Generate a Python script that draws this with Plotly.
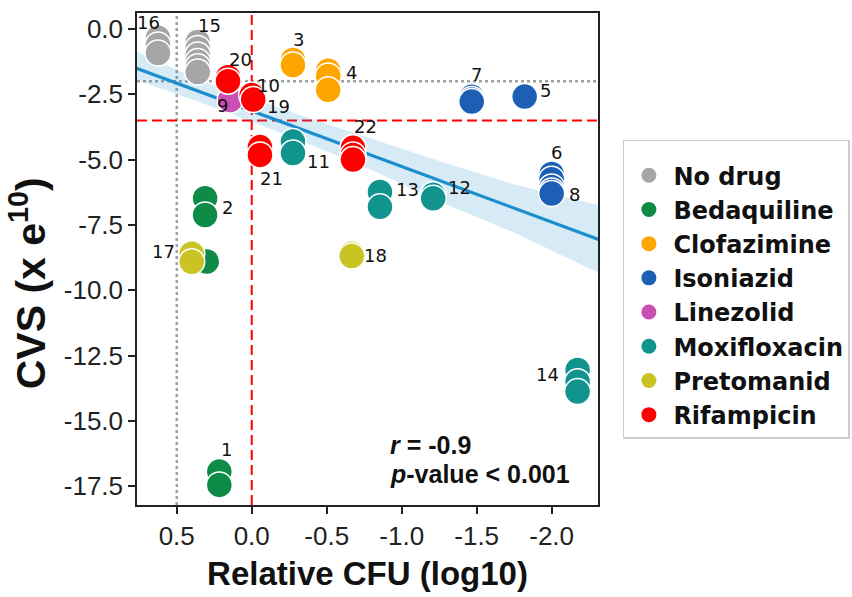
import plotly.graph_objects as go

# ---------------- data ----------------
drug_order = ["No drug", "Bedaquiline", "Clofazimine", "Isoniazid",
              "Linezolid", "Moxifloxacin", "Pretomanid", "Rifampicin"]
drug_colors = ["#A6A6A6", "#0E8C47", "#FFA500", "#1D5FB5",
               "#C94FB3", "#12948E", "#C9C424", "#FF0000"]

point_id = ["16", "16", "16",
            "15", "15", "15", "15", "15", "15",
            "1", "1", "2", "2", "2",
            "3", "3", "4", "4", "4",
            "5", "7", "7", "7", "6", "6", "8", "8", "8",
            "9",
            "11", "11", "12", "12", "13", "13", "14", "14", "14",
            "17", "17", "18", "18",
            "20", "20", "10", "19", "21", "21", "22", "22", "22"]
point_drug = ["No drug"] * 9 + ["Bedaquiline"] * 5 + ["Clofazimine"] * 5 + \
             ["Isoniazid"] * 9 + ["Linezolid"] + ["Moxifloxacin"] * 9 + \
             ["Pretomanid"] * 4 + ["Rifampicin"] * 9
point_cfu = [0.625, 0.625, 0.625,
             0.36, 0.36, 0.36, 0.36, 0.36, 0.36,
             0.216, 0.216, 0.311, 0.311, 0.30,
             -0.275, -0.275, -0.51, -0.51, -0.51,
             -1.82, -1.467, -1.467, -1.467, -2.0, -2.0, -2.0, -2.0, -2.0,
             0.144,
             -0.275, -0.275, -1.21, -1.21, -0.855, -0.855, -2.173, -2.173, -2.173,
             0.40, 0.40, -0.667, -0.667,
             0.158, 0.158, 0.0, -0.01, -0.055, -0.055, -0.675, -0.675, -0.675]
point_cvs = [-0.34, -0.61, -0.92,
             -0.5, -0.75, -1.0, -1.25, -1.45, -1.65,
             -16.94, -17.45, -6.48, -7.12, -8.9,
             -1.19, -1.38, -1.6, -1.8, -2.33,
             -2.59, -2.6, -2.7, -2.78, -5.55, -5.75, -6.05, -6.2, -6.3,
             -2.72,
             -4.31, -4.75, -6.35, -6.48, -6.24, -6.81, -13.05, -13.5, -13.88,
             -8.6, -8.91, -8.6, -8.69,
             -1.85, -2.0, -2.53, -2.7, -4.52, -4.82, -4.55, -4.82, -5.0]

# regression line and its confidence band
fit_x = [0.771, -2.32]
fit_y = [-1.50, -8.07]
band_x = [0.77, 0.35, 0.0, -0.4, -0.8, -1.25, -1.75, -2.32]
band_hi = [-0.85, -1.95, -2.65, -3.45, -4.20, -5.05, -5.95, -6.75]
band_lo = [-1.95, -2.80, -3.55, -4.45, -5.40, -6.60, -7.80, -9.35]

# threshold lines
gray_x, gray_y = 0.5, -2.0
red_x, red_y = 0.0, -3.5

x_tickvals = [0.5, 0.0, -0.5, -1.0, -1.5, -2.0]
x_ticktext = ["0.5", "0.0", "-0.5", "-1.0", "-1.5", "-2.0"]
y_tickvals = [0.0, -2.5, -5.0, -7.5, -10.0, -12.5, -15.0, -17.5]
y_ticktext = ["0.0", "-2.5", "-5.0", "-7.5", "-10.0", "-12.5", "-15.0", "-17.5"]

# ---------------- styling ----------------
label_offsets = {  # pixel offsets of each number label from the group's top point
    "16": (-10, -15), "15": (12, -17), "3": (6, -21), "20": (12, -18),
    "10": (17, -10), "9": (-8, 5), "19": (25, 7), "4": (23, 2),
    "7": (5, -22), "5": (21, -6), "22": (13, -21), "21": (12, 31),
    "11": (26, 20), "13": (28, -2), "12": (26, -7), "6": (5, -21),
    "8": (23, 7), "2": (22, 9), "17": (-28, -2), "18": (24, 2),
    "1": (7, -22), "14": (-30, 5),
}
color_of = dict(zip(drug_order, drug_colors))

fig = go.Figure()

# confidence band
fig.add_trace(go.Scatter(x=band_x, y=band_hi, mode="lines", line=dict(width=0),
                         showlegend=False, hoverinfo="skip"))
fig.add_trace(go.Scatter(x=band_x, y=band_lo, mode="lines", line=dict(width=0),
                         fill="tonexty", fillcolor="rgba(31,143,206,0.18)",
                         showlegend=False, hoverinfo="skip"))
# regression line
fig.add_trace(go.Scatter(x=fit_x, y=fit_y, mode="lines",
                         line=dict(color="#1C8DCD", width=3.2),
                         showlegend=False, hoverinfo="skip"))

# points per drug
for d in drug_order:
    xs = [x for x, dd in zip(point_cfu, point_drug) if dd == d]
    ys = [y for y, dd in zip(point_cvs, point_drug) if dd == d]
    fig.add_trace(go.Scatter(x=xs, y=ys, mode="markers", name=d, showlegend=False,
                             marker=dict(size=26, color=color_of[d],
                                         line=dict(color="white", width=1.5))))

# legend entries (small markers as in the reference)
for d in drug_order:
    fig.add_trace(go.Scatter(x=[None], y=[None], mode="markers", name="<b>%s</b>" % d,
                             marker=dict(size=15, color=color_of[d])))

# number labels
seen = []
for pid in point_id:
    if pid in seen:
        continue
    seen.append(pid)
    xs = [x for x, p in zip(point_cfu, point_id) if p == pid]
    ys = [y for y, p in zip(point_cvs, point_id) if p == pid]
    top = max(ys)
    gx = xs[ys.index(top)]
    dx, dy = label_offsets[pid]
    fig.add_annotation(x=gx, y=top, text=pid, showarrow=False,
                       xshift=dx, yshift=-dy,
                       font=dict(family="DejaVu Sans", size=18, color="#111"))

# threshold lines
dot = "3px,3px"
dash = "10px,5px"
fig.add_shape(type="line", xref="x", yref="paper", x0=gray_x, x1=gray_x, y0=0, y1=1,
              line=dict(color="#A0A0A0", width=2.5, dash=dot), layer="below")
fig.add_shape(type="line", xref="paper", yref="y", x0=0, x1=1, y0=gray_y, y1=gray_y,
              line=dict(color="#A0A0A0", width=2.5, dash=dot), layer="below")
fig.add_shape(type="line", xref="x", yref="paper", x0=red_x, x1=red_x, y0=0, y1=1,
              line=dict(color="#FF0000", width=2, dash=dash), layer="below")
fig.add_shape(type="line", xref="paper", yref="y", x0=0, x1=1, y0=red_y, y1=red_y,
              line=dict(color="#FF0000", width=2, dash=dash), layer="below")

# statistics text
fig.add_annotation(xref="paper", yref="paper", x=0.545, y=0.122, xanchor="left",
                   yanchor="middle", showarrow=False,
                   text="<b><i>r</i> = -0.9</b>",
                   font=dict(family="Liberation Sans", size=25, color="#111"))
fig.add_annotation(xref="paper", yref="paper", x=0.545, y=0.063, xanchor="left",
                   yanchor="middle", showarrow=False,
                   text="<b><i>p</i>-value &lt; 0.001</b>",
                   font=dict(family="Liberation Sans", size=25, color="#111"))

# y-axis title (larger than the x title in the reference, centred a bit low)
fig.add_annotation(xref="paper", yref="paper", x=-0.236, y=0.451, xanchor="center",
                   yanchor="middle", showarrow=False, textangle=-90,
                   text="<b>CVS (x e<sup>10</sup>)</b>",
                   font=dict(family="Liberation Sans", size=41, color="#111"))

axis_common = dict(showgrid=False, zeroline=False, showline=True, linecolor="#222",
                   linewidth=1.5, mirror=True, ticks="outside", ticklen=7,
                   tickwidth=1.5, tickcolor="#222",
                   tickfont=dict(family="Liberation Sans", size=26, color="#222"))

fig.update_layout(
    width=852, height=597,
    margin=dict(l=137, r=254, t=13, b=92, autoexpand=False),
    paper_bgcolor="white", plot_bgcolor="white",
    xaxis=dict(range=[0.765, -2.309], tickvals=x_tickvals, ticktext=x_ticktext,
               title=dict(text="<b>Relative CFU (log10)</b>", standoff=12,
                          font=dict(family="Liberation Sans", size=33, color="#111")),
               **axis_common),
    yaxis=dict(range=[-18.22, 0.61], tickvals=y_tickvals, ticktext=y_ticktext,
               **axis_common),
    legend=dict(x=1.054, y=0.742, xanchor="left", yanchor="top",
                bordercolor="#CCCCCC", borderwidth=1.5, bgcolor="white",
                font=dict(family="DejaVu Sans", size=24, color="#111"),
                title=dict(text=" ", font=dict(size=9)),
                itemsizing="trace", itemwidth=39, traceorder="normal"),
    showlegend=True,
)

fig.write_html("out.html", config={"displayModeBar": False},
               post_script="document.body.style.margin='0px';")
